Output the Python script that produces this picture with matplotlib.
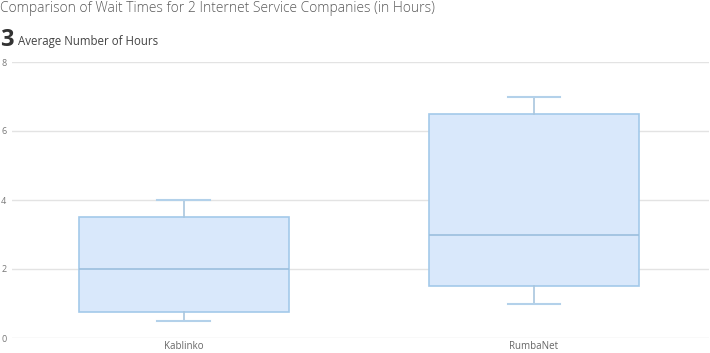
import matplotlib
matplotlib.use("Agg")
import matplotlib.pyplot as plt

plt.rcParams["font.family"] = ["Open Sans", "DejaVu Sans"]

companies = ["Kablinko", "RumbaNet"]
whisker_low = [0.5, 1.0]
q1 = [0.75, 1.5]
median = [2.0, 3.0]
q3 = [3.5, 6.5]
whisker_high = [4.0, 7.0]

stats = []
for name, lo, a, m, b, hi in zip(companies, whisker_low, q1, median, q3, whisker_high):
    stats.append({"label": name, "whislo": lo, "q1": a, "med": m, "q3": b,
                  "whishi": hi, "fliers": []})

fig = plt.figure(figsize=(7.10, 3.53), dpi=100)
fig.patch.set_facecolor("white")
ax = fig.add_axes([12 / 710, 1 - 338 / 353, 697 / 710, 276 / 353])

BOX_FACE = "#d9e8fb"
BOX_EDGE = "#a3c9ea"
LINE = "#a9c6de"

ax.bxp(stats, positions=[0, 1], widths=0.6, patch_artist=True,
       showfliers=False,
       boxprops=dict(facecolor=BOX_FACE, edgecolor=BOX_EDGE, linewidth=1.2),
       medianprops=dict(color="#9bbfdd", linewidth=1.2),
       whiskerprops=dict(color=LINE, linewidth=1.2),
       capprops=dict(color="#b3d1ea", linewidth=1.5),
       capwidths=0.15)

ax.set_xlim(-0.49, 1.5)
ax.set_ylim(0, 8)
ax.set_yticks([0, 2, 4, 6, 8])
ax.yaxis.grid(True, color="#e3e3e3", linewidth=1)
ax.set_axisbelow(True)
for s in ax.spines.values():
    s.set_visible(False)
ax.tick_params(axis="y", length=0, pad=4, labelsize=6.5, labelcolor="#777777")
ax.tick_params(axis="x", length=0, pad=2, labelsize=7, labelcolor="#666666")
ax.set_xticks([0, 1])
ax.set_xticklabels(companies)

fig.text(0.0, 1 - 8 / 353, "Comparison of Wait Times for 2 Internet Service Companies (in Hours)",
         fontsize=10, color="#5a5a5a", va="center", ha="left", fontweight="light")
fig.text(0.0, 1 - 40 / 353, "3", fontsize=17, fontweight="bold", color="#333333",
         va="center", ha="left")
fig.text(18 / 710, 1 - 42 / 353, "Average Number of Hours", fontsize=8.3, color="#444444",
         va="center", ha="left")

fig.savefig("out.png", dpi=100, facecolor="white")
